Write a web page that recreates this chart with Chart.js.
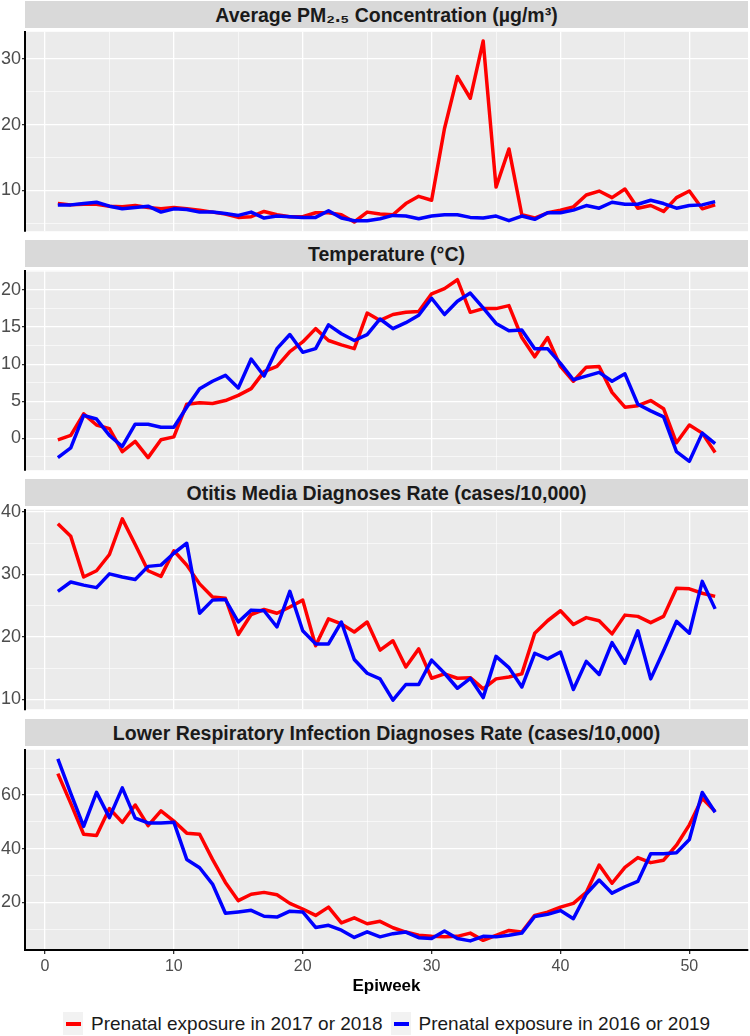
<!DOCTYPE html>
<html>
<head>
<meta charset="utf-8">
<script src="https://cdn.jsdelivr.net/npm/chart.js@4.4.0/dist/chart.umd.min.js"></script>
<style>
html,body{margin:0;padding:0;background:#fff;}
#wrap{position:relative;width:750px;height:1036px;overflow:hidden;font-family:"Liberation Sans",Arial,sans-serif;}
.strip{position:absolute;left:25px;width:723px;height:27px;line-height:28px;background:#d9d9d9;color:#1a1a1a;font-weight:bold;font-size:19.5px;text-align:center;white-space:nowrap;}
canvas{position:absolute;left:0;}
#legend{position:absolute;left:63px;top:1012px;height:23px;display:flex;align-items:center;font-size:19px;color:#1a1a1a;white-space:nowrap;}
.key{width:20px;height:23px;background:#f2f2f2;position:relative;margin-right:8px;}
.key span{position:absolute;left:3px;right:2px;top:10px;height:4px;}
.item{display:flex;align-items:center;margin-right:8px;}
</style>
</head>
<body>
<div id="wrap">
  <div class="strip" id="s0" style="top:1px">Average PM₂.₅ Concentration (µg/m³)</div>
  <div class="strip" id="s1" style="top:240px">Temperature (°C)</div>
  <div class="strip" id="s2" style="top:479px">Otitis Media Diagnoses Rate (cases/10,000)</div>
  <div class="strip" id="s3" style="top:719px">Lower Respiratory Infection Diagnoses Rate (cases/10,000)</div>
  <canvas id="c0"></canvas>
  <canvas id="c1"></canvas>
  <canvas id="c2"></canvas>
  <canvas id="c3"></canvas>
  <div id="legend">
    <div class="item"><div class="key"><span style="background:#ff0000"></span></div><span id="l0"></span></div>
    <div class="item"><div class="key"><span style="background:#0000ff"></span></div><span id="l1"></span></div>
  </div>
</div>
<script>
// ---- Data ----
const epiweeks = [1,2,3,4,5,6,7,8,9,10,11,12,13,14,15,16,17,18,19,20,21,22,23,24,25,26,
                  27,28,29,30,31,32,33,34,35,36,37,38,39,40,41,42,43,44,45,46,47,48,49,50,51,52];
const seriesNames = ['Prenatal exposure in 2017 or 2018', 'Prenatal exposure in 2016 or 2019'];
const xTickLabels = [0,10,20,30,40,50];

const pm25_1718 = [8.0,7.8,7.9,7.9,7.6,7.5,7.7,7.4,7.2,7.4,7.2,7.0,6.7,6.4,5.9,6.0,6.8,6.3,6.0,6.0,6.6,6.6,6.3,5.2,6.7,6.4,
                   6.3,8.0,9.1,8.5,19.4,27.3,24.0,32.7,10.5,16.3,6.3,5.8,6.6,7.0,7.5,9.3,9.9,8.9,10.2,7.3,7.7,6.8,8.9,9.9,7.2,7.8];
const pm25_1619 = [7.8,7.8,8.0,8.2,7.6,7.2,7.4,7.6,6.7,7.2,7.1,6.7,6.7,6.5,6.2,6.7,5.8,6.1,6.0,5.9,5.9,6.9,5.8,5.4,5.4,5.7,
                   6.2,6.1,5.7,6.1,6.3,6.3,5.9,5.8,6.1,5.4,6.1,5.6,6.6,6.6,7.0,7.7,7.3,8.2,7.9,7.9,8.5,8.0,7.3,7.7,7.8,8.3];
const temp_1718 = [-0.2,0.4,3.3,1.8,1.3,-1.8,-0.4,-2.6,-0.2,0.2,4.6,4.8,4.7,5.1,5.8,6.7,9.0,9.7,11.7,13.0,14.8,13.2,12.6,12.1,16.9,15.9,
                   16.7,17.0,17.1,19.5,20.2,21.4,17.0,17.5,17.5,17.9,13.6,11.0,13.6,9.7,7.7,9.6,9.7,6.2,4.2,4.4,5.1,4.0,-0.6,1.8,0.7,-1.9];
const temp_1619 = [-2.6,-1.3,3.1,2.6,0.4,-1.1,1.9,1.9,1.5,1.5,4.2,6.7,7.7,8.5,6.8,10.7,8.4,12.1,14.0,11.6,12.1,15.3,14.1,13.2,14.0,16.1,
                   14.8,15.6,16.6,18.9,16.7,18.5,19.6,17.6,15.5,14.5,14.6,12.1,12.1,10.1,7.9,8.4,8.9,7.7,8.7,4.6,3.7,2.9,-1.8,-3.1,0.7,-0.7];
const otitis_1718 = [38.1,36.1,29.6,30.6,33.2,38.9,34.8,30.6,29.7,33.8,31.5,28.5,26.4,26.2,20.4,23.6,24.4,23.8,24.8,25.9,18.6,22.9,22.1,20.8,22.4,17.9,
                     19.4,15.2,18.1,13.4,14.1,13.4,13.5,11.7,13.3,13.6,14.1,20.6,22.6,24.2,22.0,23.1,22.6,20.5,23.5,23.3,22.3,23.3,27.8,27.7,27.0,26.5];
const otitis_1619 = [27.3,28.8,28.3,27.9,30.1,29.6,29.2,31.3,31.5,33.4,35.0,23.8,25.9,26.0,22.4,24.3,24.2,21.6,27.3,21.0,18.9,18.9,22.4,16.4,14.2,13.3,
                     9.9,12.4,12.4,16.3,14.2,11.8,13.4,10.3,16.9,15.1,12.0,17.4,16.5,17.6,11.6,16.1,14.0,19.1,15.8,21.0,13.3,17.8,22.5,20.6,28.9,24.5];
const lri_1718 = [68.0,56.9,45.4,44.9,55.0,49.8,56.3,48.6,54.1,50.3,45.8,45.4,36.0,27.4,20.6,23.0,23.7,22.8,19.6,17.5,15.1,18.2,12.3,14.2,12.0,12.9,
                  10.5,8.9,7.7,7.3,7.1,7.3,8.5,5.8,7.7,9.5,8.9,15.1,16.3,18.2,19.6,23.7,33.9,27.1,33.0,36.7,34.8,35.7,41.3,48.9,58.8,53.9];
const lri_1619 = [73.5,60.6,48.3,61.0,51.6,62.7,51.4,49.6,49.6,49.9,36.0,32.9,26.8,15.9,16.4,17.0,14.8,14.5,16.7,16.4,10.6,11.4,9.6,6.9,9.0,7.1,
                  8.3,8.9,6.8,6.5,9.3,6.5,5.6,7.3,7.1,7.7,8.5,14.7,15.5,16.9,13.9,23.1,28.3,23.4,25.8,27.8,38.1,38.1,38.5,43.4,61.0,53.6];

const pmTicks = [10,20,30];
const tempTicks = [0,5,10,15,20];
const otitisTicks = [10,20,30,40];
const lriTicks = [20,40,60];

// ---- Layout / style ----
const panels = [
  {id:'c0', red:pm25_1718, blue:pm25_1619, ticks:pmTicks, step:10, min:3.8, max:34.1, top:30, bottom:233},
  {id:'c1', red:temp_1718, blue:temp_1619, ticks:tempTicks, step:5, min:-4.3, max:22.6, top:269, bottom:472},
  {id:'c2', red:otitis_1718, blue:otitis_1619, ticks:otitisTicks, step:10, min:8.45, max:40.35, top:508, bottom:711},
  {id:'c3', red:lri_1718, blue:lri_1619, ticks:lriTicks, step:20, min:2.2, max:76.9, top:748, bottom:950}
];
const FONT = "'Liberation Sans', Arial, sans-serif";
const PAD = 10, XAXIS_H = 50;

document.getElementById('l0').textContent = seriesNames[0];
document.getElementById('l1').textContent = seriesNames[1];

const bgPlugin = {
  id:'panelBg',
  beforeDraw(chart){
    const {ctx, chartArea:a} = chart;
    ctx.save(); ctx.fillStyle = '#ebebeb';
    ctx.fillRect(a.left, a.top, a.right - a.left, a.bottom - a.top);
    ctx.restore();
  }
};

function withMinors(majors, step, min, max){
  const all = [];
  const first = majors[0] - step * Math.ceil((majors[0] - min) / step);
  for (let v = first - step/2; v <= max; v += step/2){
    if (v >= min) all.push(Math.round(v*100)/100);
  }
  return all;
}

panels.forEach((p, idx) => {
  const last = idx === panels.length - 1;
  const cv = document.getElementById(p.id);
  const h = (p.bottom - p.top) + PAD + (last ? XAXIS_H : PAD);
  cv.width = 750; cv.height = h;
  cv.style.top = (p.top - PAD) + 'px';
  const yAll = withMinors(p.ticks, p.step, p.min, p.max);
  const xAll = withMinors(xTickLabels, 10, -1.55, 54.55);
  const isMajY = v => p.ticks.some(t => Math.abs(t - v) < 1e-6);
  const isMajX = v => xTickLabels.some(t => Math.abs(t - v) < 1e-6);
  const toPts = arr => epiweeks.map((w, i) => ({x: w, y: arr[i]}));
  new Chart(cv, {
    type:'line',
    data:{datasets:[
      {label:seriesNames[0], data:toPts(p.red), borderColor:'#ff0000', borderWidth:3.5, order:2},
      {label:seriesNames[1], data:toPts(p.blue), borderColor:'#0000ff', borderWidth:3.5, order:1}
    ]},
    options:{
      responsive:false, animation:false, devicePixelRatio:1,
      layout:{padding:{top:PAD, bottom:last ? 0 : PAD, left:0, right:2}},
      elements:{point:{radius:0}, line:{tension:0, borderCapStyle:'butt', borderJoinStyle:'round'}},
      plugins:{legend:{display:false}, tooltip:{enabled:false}},
      scales:{
        x:{
          type:'linear', min:-1.55, max:54.55,
          afterBuildTicks: s => { s.ticks = xAll.map(v => ({value:v})); },
          afterFit: s => { s.height = last ? XAXIS_H : 0; },
          grid:{
            color:'#ffffff',
            lineWidth: c => (c.tick && isMajX(c.tick.value)) ? 1.3 : 0.6,
            drawTicks:last, tickLength:4,
            tickColor: c => (c.tick && isMajX(c.tick.value)) ? '#333333' : 'rgba(0,0,0,0)'
          },
          border:{display:last, color:'#000000', width:2},
          ticks:{display:last, autoSkip:false, maxRotation:0, padding:3, color:'#4d4d4d',
                 font:{family:FONT, size:16},
                 callback: v => isMajX(v) ? String(v) : ''},
          title:{display:last, text:'Epiweek', color:'#000000', font:{family:FONT, size:17, weight:'bold'}, padding:{top:2, bottom:3}}
        },
        y:{
          type:'linear', min:p.min, max:p.max,
          afterBuildTicks: s => { s.ticks = yAll.map(v => ({value:v})); },
          afterFit: s => { s.width = 25; },
          grid:{
            color:'#ffffff',
            lineWidth: c => (c.tick && isMajY(c.tick.value)) ? 1.3 : 0.6,
            tickLength:3,
            tickColor: c => (c.tick && isMajY(c.tick.value)) ? '#333333' : 'rgba(0,0,0,0)'
          },
          border:{display:true, color:'#000000', width:2},
          ticks:{autoSkip:false, padding:1, color:'#4d4d4d', font:{family:FONT, size:18},
                 callback: v => isMajY(v) ? String(v) : ''}
        }
      }
    },
    plugins:[bgPlugin]
  });
});
</script>
</body>
</html>
